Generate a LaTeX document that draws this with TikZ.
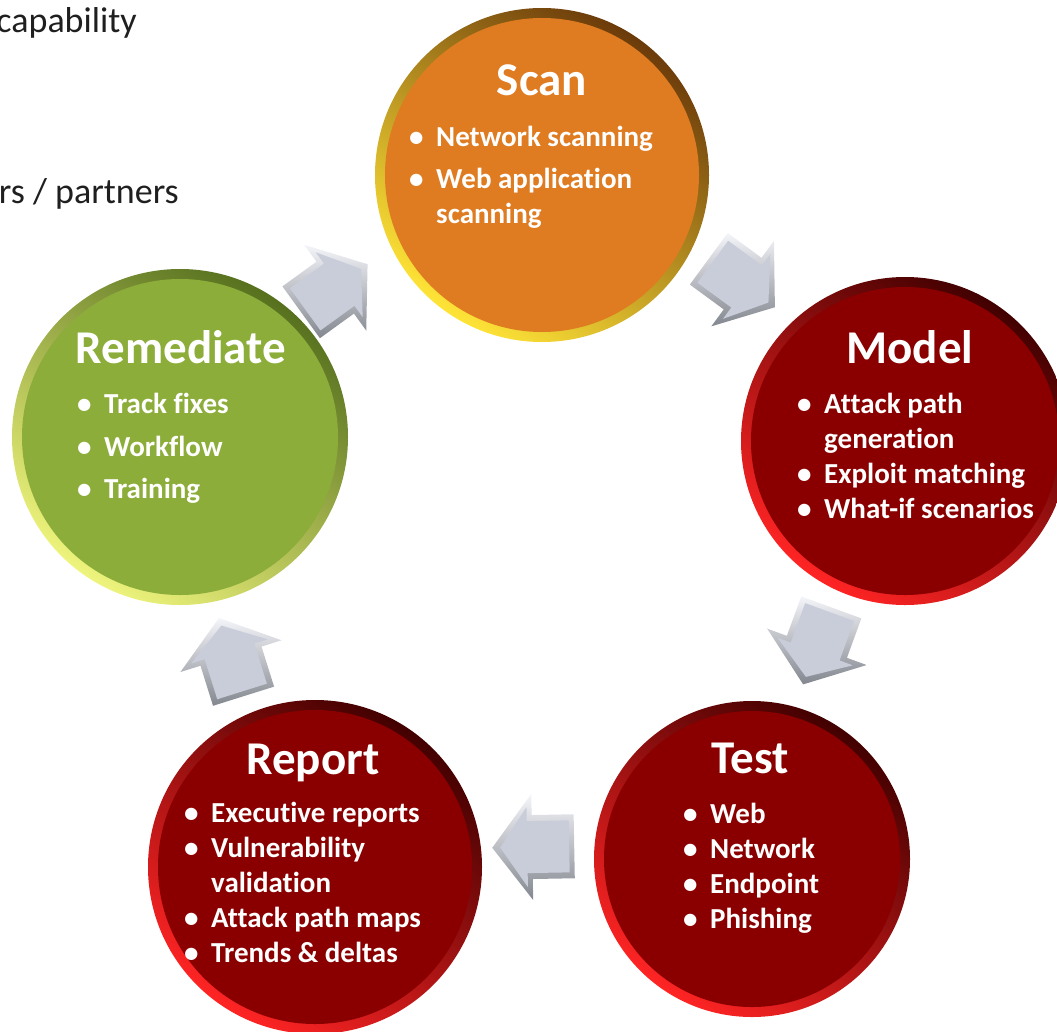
\documentclass[tikz,border=0pt]{standalone}
\usepackage{fontspec}
\setmainfont[Ligatures=NoCommon]{Carlito}
\usetikzlibrary{calc}

\definecolor{scanface}{HTML}{DF7B20}
\definecolor{scanlight}{HTML}{FFE437}
\definecolor{scandark}{HTML}{6B3A0A}
\definecolor{crimface}{HTML}{8A0000}
\definecolor{crimlight}{HTML}{FF2424}
\definecolor{crimdark}{HTML}{420000}
\definecolor{remface}{HTML}{8CAD3A}
\definecolor{remlight}{HTML}{EEF47C}
\definecolor{remdark}{HTML}{56701E}
\definecolor{arrowface}{HTML}{C9CDD9}
\definecolor{arrowlight}{HTML}{F4F5F9}
\definecolor{arrowdark}{HTML}{83878F}

\newcommand\bul{\makebox[27pt][l]{•}}
\newcommand\ind{\hspace*{27pt}}
% block arrow between two discs: from, to, fraction, side offset
\newcommand\cycarrow[4]{%
  \path let \p1 = ($(#2)-(#1)$), \n1 = {atan2(\y1,\x1)} in
    ($(#1)!#3!(#2)$) ++(\n1+90:#4) pic[rotate=\n1] {blockarrow};}

\tikzset{
  disc/.style={circle, inner sep=0pt, top color=#1dark, bottom color=#1light, shading angle=-35},
  title/.style={font=\fontsize{47}{52}\selectfont\bfseries, text=white, anchor=base, inner sep=0pt},
  items/.style={font=\fontsize{29}{35}\selectfont\bfseries, text=white, align=left, anchor=north west, inner sep=0pt},
  note/.style={font=\fontsize{36}{40}\selectfont, text=black!88, anchor=base east, inner sep=0pt},
  blockarrow/.pic={
    \shade[top color=arrowlight, bottom color=arrowdark]
      (-41,-32) -- (1,-32) -- (1,-53) -- (41,0) -- (1,53) -- (1,32) -- (-41,32) -- cycle;
    \fill[arrowface]
      (-36,-26) -- (6,-26) -- (6,-40) -- (33,0) -- (6,40) -- (6,26) -- (-36,26) -- cycle;
  }
}

\begin{document}
\begin{tikzpicture}[x=1pt,y=1pt]
\useasboundingbox (0,0) rectangle (1057,-1031);

% text cut off at the left edge
\node[note] (cap) at (137,-32) {capability};
\node[note] (part) at (179,-203) {rs / partners};

% discs
\node[disc=scan, minimum size=334pt] (scan) at (542,-175) {};
\fill[scanface] (scan) circle (157pt);
\node[disc=crim, minimum size=328pt] (model) at (905,-441) {};
\fill[crimface] (model) circle (154pt);
\node[disc=crim, minimum size=316pt] (test) at (752,-859) {};
\fill[crimface] (test) circle (148pt);
\node[disc=crim, minimum size=334pt] (report) at (315,-867) {};
\fill[crimface] (report) circle (157pt);
\node[disc=rem, minimum size=336pt] (remed) at (180,-437) {};
\fill[remface] (remed) circle (158pt);

% titles
\node[title] (scant) at (542,-95) {Scan};
\node[title] (modelt) at (910,-363) {Model};
\node[title] (testt) at (750,-773) {Test};
\node[title] (reportt) at (313,-774) {Report};
\node[title] (remedt) at (181,-363) {Remediate};

% bullet lists
\node[items] (scanl) at (409,-121.5) {\strut\bul Network scanning\\[7pt]
  \bul Web application\\ \ind scanning};
\node[items] (modell) at (797,-388.5) {\strut\bul Attack path\\ \ind generation\\
  \bul Exploit matching\\ \bul What-if scenarios};
\node[items] (testl) at (683,-798.5) {\strut\bul Web\\ \bul Network\\ \bul Endpoint\\ \bul Phishing};
\node[items] (reportl) at (184,-797.5) {\strut\bul Executive reports\\ \bul Vulnerability\\
  \ind validation\\ \bul Attack path maps\\ \bul Trends \& deltas};
\node[items] (remedl) at (77,-388.5) {\strut\bul Track fixes\\[8pt] \bul Workflow\\[7pt] \bul Training};

% arrows round the cycle
\cycarrow{remed}{scan}{0.475}{30pt}
\cycarrow{scan}{model}{0.5}{31pt}
\cycarrow{model}{test}{0.5}{-12pt}
\cycarrow{test}{report}{0.5}{-16pt}
\cycarrow{report}{remed}{0.5}{17pt}
\end{tikzpicture}
\end{document}
